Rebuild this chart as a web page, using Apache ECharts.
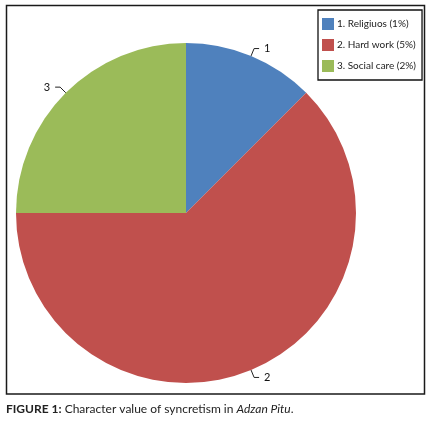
<!DOCTYPE html>
<html>
<head>
<meta charset="utf-8">
<script src="https://cdn.jsdelivr.net/npm/echarts@6/dist/echarts.min.js"></script>
<style>
html,body{margin:0;padding:0;background:#fff;}
#chart{width:427px;height:424px;}
</style>
</head>
<body>
<div id="chart"></div>
<script>
var categories = ['1. Religiuos (1%)', '2. Hard work (5%)', '3. Social care (2%)'];
var sliceLabels = ['1', '2', '3'];
var values = [1, 5, 2];
var colors = ['#4F81BD', '#C0504D', '#9BBB59'];

var chart = echarts.init(document.getElementById('chart'));
var data = categories.map(function (c, i) {
  return { name: c, value: values[i], itemStyle: { color: colors[i] } };
});
chart.setOption({
  animation: false,
  backgroundColor: '#fff',
  legend: {
    orient: 'vertical',
    left: 318,
    top: 10,
    width: 102,
    padding: [8, 6, 8, 4],
    itemWidth: 12,
    itemHeight: 12,
    itemGap: 9,
    borderColor: '#111',
    borderWidth: 1.3,
    icon: 'rect',
    textStyle: { fontFamily: 'Lato', fontSize: 10, color: '#222', padding: [0, 0, 0, -2] },
    data: categories
  },
  series: [{
    type: 'pie',
    center: [186, 213],
    radius: 170,
    startAngle: 90,
    clockwise: true,
    label: {
      show: true,
      position: 'outside',
      formatter: function (p) { return sliceLabels[p.dataIndex]; },
      fontFamily: 'Lato',
      fontSize: 11,
      color: '#111'
    },
    labelLine: {
      show: true,
      length: 8,
      length2: 5,
      lineStyle: { color: '#222', width: 1 }
    },
    emphasis: { disabled: true },
    data: data
  }],
  graphic: [
    {
      type: 'rect',
      shape: { x: 6.5, y: 5.5, width: 418, height: 388.5 },
      style: { fill: 'none', stroke: '#1a1a1a', lineWidth: 1.5 },
      z: -1
    },
    {
      type: 'text',
      left: 6,
      top: 403,
      style: {
        text: '{b|FIGURE 1:} Character value of syncretism in {i|Adzan Pitu}.',
        fontFamily: 'Lato',
        fontSize: 12,
        fill: '#222',
        rich: {
          b: { fontWeight: 'bold', fontFamily: 'Lato', fontSize: 12, fill: '#222' },
          i: { fontStyle: 'italic', fontFamily: 'Lato', fontSize: 12, fill: '#222' }
        }
      }
    }
  ]
});
</script>
</body>
</html>
